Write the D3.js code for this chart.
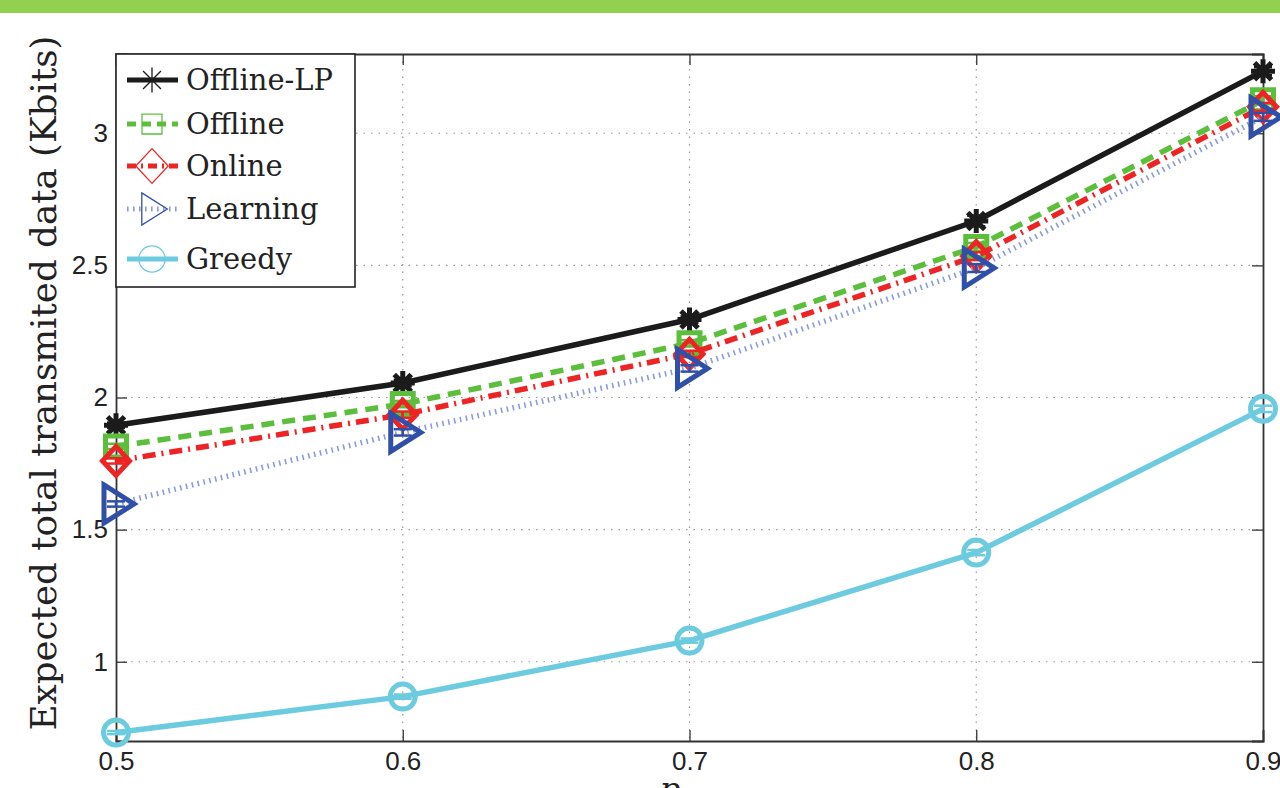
<!DOCTYPE html>
<html>
<head>
<meta charset="utf-8">
<script src="https://cdn.jsdelivr.net/npm/d3@7"></script>
<style>
  html, body { margin: 0; padding: 0; background: #fff; overflow: hidden; }
  svg { display: block; }
</style>
</head>
<body>
<svg id="chart" width="1280" height="788"></svg>
<script>
// ---------------- data ----------------
const xValues = [0.5, 0.6, 0.7, 0.8, 0.9];
const xTicks = [0.5, 0.6, 0.7, 0.8, 0.9];
const yTicks = [1, 1.5, 2, 2.5, 3];
const seriesNames = ["Offline-LP", "Offline", "Online", "Learning", "Greedy"];
const offlineLP = [1.895, 2.055, 2.295, 2.668, 3.235];
const offline   = [1.815, 1.975, 2.205, 2.570, 3.125];
const online    = [1.760, 1.935, 2.165, 2.535, 3.100];
const learning  = [1.597, 1.868, 2.110, 2.490, 3.062];
const greedy    = [0.732, 0.868, 1.080, 1.413, 1.957];
const errLP       = [0.010, 0.012, 0.012, 0.020, 0.015];
const errOffline  = [0.010, 0.012, 0.012, 0.015, 0.015];
const errOnline   = [0.010, 0.012, 0.012, 0.015, 0.015];
const errLearning = [0.010, 0.012, 0.012, 0.015, 0.015];
const errGreedy   = [0.006, 0.008, 0.008, 0.010, 0.012];
const xLabel = "p";
const xLabelSub = "H";
const yLabel = "Expected total transmited data (Kbits)";

// ---------------- layout ----------------
const svg = d3.select("#chart");
const W = 1280, H = 788;
const L = 116, R = 1263, T = 54, B = 741;

svg.append("rect").attr("x", 0).attr("y", 0).attr("width", W).attr("height", H).attr("fill", "#fff");
svg.append("rect").attr("x", 0).attr("y", 0).attr("width", W).attr("height", 13).attr("fill", "#92d050");

const x = d3.scaleLinear().domain([0.5, 0.9]).range([L, R]);
const y = d3.scaleLinear().domain([0.7, 3.3]).range([B, T]);

// grid
const grid = svg.append("g");
grid.selectAll("line.gx").data(xTicks.slice(1, -1)).join("line")
  .attr("x1", d => x(d)).attr("x2", d => x(d)).attr("y1", T).attr("y2", B)
  .attr("stroke", "#999").attr("stroke-width", 1.2).attr("stroke-dasharray", "1.5,6");
grid.selectAll("line.gy").data(yTicks).join("line")
  .attr("x1", L).attr("x2", R).attr("y1", d => y(d)).attr("y2", d => y(d))
  .attr("stroke", "#999").attr("stroke-width", 1.2).attr("stroke-dasharray", "1.5,6");

// axes (inward ticks on all four sides)
const tickFont = "'Liberation Sans', Arial, Helvetica, sans-serif";
const axB = svg.append("g").attr("transform", `translate(0,${B})`)
  .call(d3.axisBottom(x).tickValues(xTicks).tickSize(-11).tickPadding(14).tickFormat(d3.format(".1f")));
const axT = svg.append("g").attr("transform", `translate(0,${T})`)
  .call(d3.axisTop(x).tickValues(xTicks).tickSize(-11).tickFormat(""));
const axL = svg.append("g").attr("transform", `translate(${L},0)`)
  .call(d3.axisLeft(y).tickValues(yTicks).tickSize(-11).tickPadding(8).tickFormat(d => d3.format("")(d)));
const axR = svg.append("g").attr("transform", `translate(${R},0)`)
  .call(d3.axisRight(y).tickValues(yTicks).tickSize(-11).tickFormat(""));
[axB, axT, axL, axR].forEach(a => {
  a.select(".domain").attr("stroke", "#333").attr("stroke-width", 1.8);
  a.selectAll(".tick line").attr("stroke", "#333").attr("stroke-width", 1.3);
  a.selectAll(".tick text").attr("fill", "#222")
    .attr("font-family", tickFont).attr("font-size", 26);
});
axB.selectAll(".tick text").attr("dy", "0.71em").attr("y", 11);
axL.selectAll(".tick text").attr("x", -8);

// labels
const serif = "'DejaVu Serif', 'Liberation Serif', serif";
const ylab = svg.append("text")
  .attr("transform", `translate(56,383) rotate(-90)`)
  .attr("text-anchor", "middle")
  .attr("font-family", serif).attr("font-size", 32).attr("fill", "#222")
  .text(yLabel);
{
  const len = ylab.node().getComputedTextLength();
  const fs = 32 * 695 / len;
  ylab.attr("font-size", Math.min(fs, 36));
  ylab.attr("textLength", 695).attr("lengthAdjust", "spacing");
}

const xl = svg.append("text").attr("x", 680).attr("y", 800)
  .attr("text-anchor", "middle")
  .attr("font-family", serif).attr("font-style", "italic").attr("font-size", 32).attr("fill", "#222");
xl.append("tspan").text(xLabel);
xl.append("tspan").attr("dy", 6).attr("font-size", 23).text(xLabelSub);

// ---------------- series ----------------
const series = [
  { name: seriesNames[0], values: offlineLP, err: errLP, color: "#1b1b1b", lineColor: "#1b1b1b", dash: null, marker: "star" },
  { name: seriesNames[1], values: offline, err: errOffline, color: "#5cbf3c", lineColor: "#5cbf3c", dash: "13,8", marker: "square" },
  { name: seriesNames[2], values: online, err: errOnline, color: "#ee2424", lineColor: "#ee2424", dash: "13,6,2,6", marker: "diamond" },
  { name: seriesNames[3], values: learning, err: errLearning, color: "#3050a8", lineColor: "#8c9bd8", dash: "1.6,4.4", marker: "triangle" },
  { name: seriesNames[4], values: greedy, err: errGreedy, color: "#6ccbdf", lineColor: "#6ccbdf", dash: null, marker: "circle" }
];

function markerPath(type, s) {
  switch (type) {
    case "star": {
      const a = 12 * s, d = 8.5 * s;
      return `M${-a},0L${a},0M0,${-a}L0,${a}M${-d},${-d}L${d},${d}M${-d},${d}L${d},${-d}`;
    }
    case "square": {
      const h = 10.5 * s;
      return `M${-h},${-h}L${h},${-h}L${h},${h}L${-h},${h}Z`;
    }
    case "diamond": {
      const hx = 13.5 * s, hy = 14.5 * s;
      return `M0,${-hy}L${hx},0L0,${hy}L${-hx},0Z`;
    }
    case "triangle": {
      return `M${-12 * s},${-19 * s}L${18 * s},0L${-12 * s},${19 * s}Z`;
    }
    case "circle": {
      const r = 12.5 * s;
      return `M${r},0A${r},${r} 0 1,1 ${-r},0A${r},${r} 0 1,1 ${r},0Z`;
    }
  }
}

const line = d3.line().x((d, i) => x(xValues[i])).y(d => y(d));

series.forEach(s => {
  const g = svg.append("g");
  g.append("path").datum(s.values)
    .attr("d", line).attr("fill", "none")
    .attr("stroke", s.lineColor).attr("stroke-width", 5.5)
    .attr("stroke-dasharray", s.dash).attr("stroke-linejoin", "round");
  const pts = s.values.map((v, i) => ({ x: xValues[i], v: v, e: s.err[i] }));
  const eb = g.selectAll("g.eb").data(pts).join("g");
  eb.append("line")
    .attr("x1", d => x(d.x)).attr("x2", d => x(d.x))
    .attr("y1", d => y(d.v - d.e)).attr("y2", d => y(d.v + d.e))
    .attr("stroke", s.color).attr("stroke-width", 2.5);
  [-1, 1].forEach(sg => {
    eb.append("line")
      .attr("x1", d => x(d.x) - 9).attr("x2", d => x(d.x) + 9)
      .attr("y1", d => y(d.v + sg * d.e)).attr("y2", d => y(d.v + sg * d.e))
      .attr("stroke", s.color).attr("stroke-width", 2.5);
  });
  g.selectAll("path.m").data(pts).join("path")
    .attr("class", "m")
    .attr("transform", d => `translate(${x(d.x)},${y(d.v)})`)
    .attr("d", markerPath(s.marker, 1))
    .attr("fill", "none").attr("stroke", s.color)
    .attr("stroke-width", 5)
    .attr("stroke-linejoin", "miter");
});

// ---------------- legend ----------------
const lg = svg.append("g");
lg.append("rect").attr("x", L).attr("y", T).attr("width", 239).attr("height", 233)
  .attr("fill", "#fff").attr("stroke", "#222").attr("stroke-width", 1.6);
const rowY = [80, 124, 166, 209, 259];
const legendDash = [null, "9,6", "9,5,2,5", "1.6,4.4", null];
const legendTexts = [];
series.forEach((s, i) => {
  const yy = rowY[i];
  lg.append("line").attr("x1", 127).attr("x2", 178).attr("y1", yy).attr("y2", yy)
    .attr("stroke", s.lineColor).attr("stroke-width", 5).attr("stroke-dasharray", legendDash[i]);
  const ms = [1.05, 0.95, 1.2, 0.85, 1.05][i];
  lg.append("path").attr("transform", `translate(152,${yy})`)
    .attr("d", markerPath(s.marker, ms))
    .attr("fill", "none").attr("stroke", s.color).attr("stroke-width", 1.3);
  legendTexts.push(lg.append("text").attr("x", 186).attr("y", yy).attr("dy", "0.35em")
    .attr("font-family", serif).attr("font-size", 30).attr("fill", "#222")
    .text(s.name));
});
{
  const len = legendTexts[0].node().getComputedTextLength();
  const fs = Math.min(34, 30 * 147 / len);
  legendTexts.forEach(t => t.attr("font-size", fs));
}
</script>
</body>
</html>
